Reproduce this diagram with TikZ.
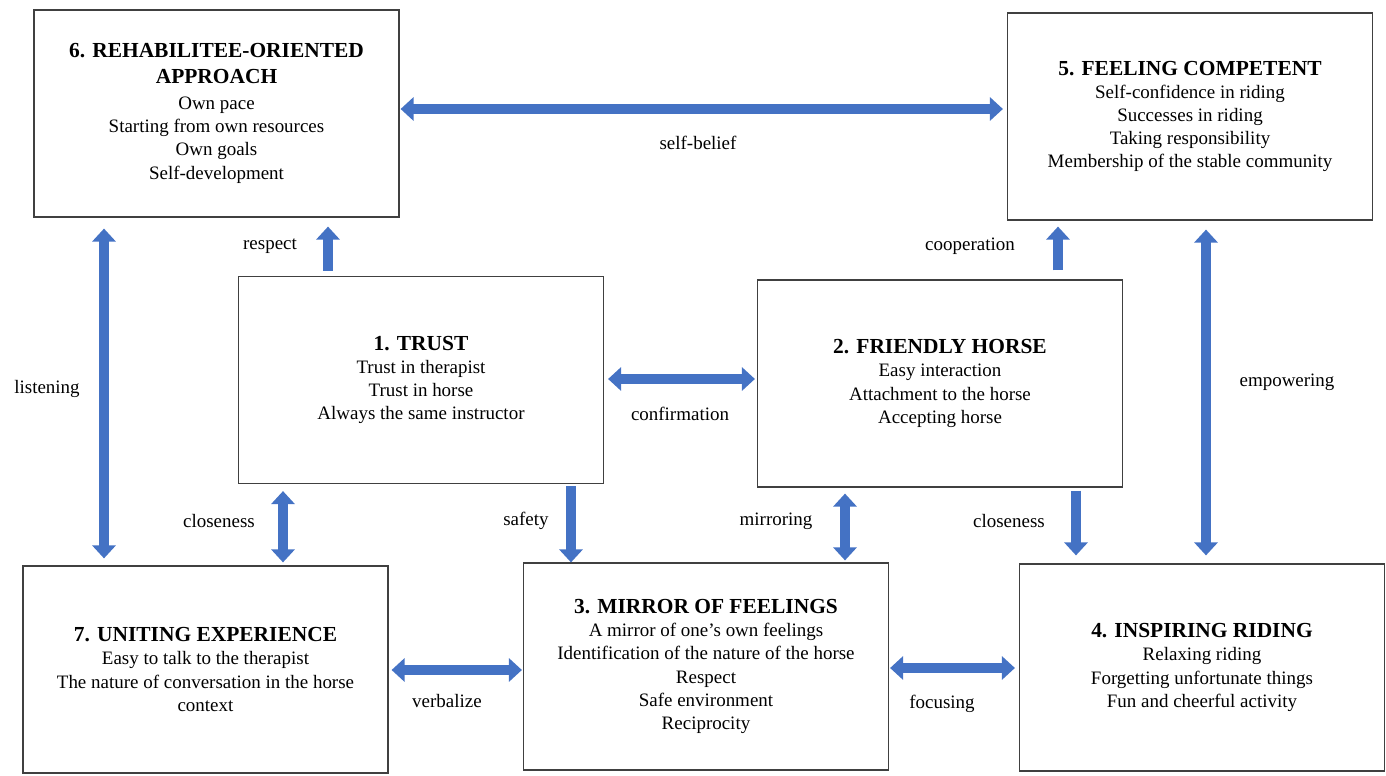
\documentclass[tikz,border=0pt]{standalone}
\usepackage{fontspec}
\setmainfont{Liberation Serif}
\usetikzlibrary{arrows.meta}
\definecolor{arrowblue}{RGB}{68,114,196}
\newcommand{\boxtitle}[1]{{\fontsize{12.2}{14.7}\selectfont\bfseries #1}}
\tikzset{
  theme/.style={draw=black!75, line width=0.7pt, minimum width=7.3cm, minimum height=4.14cm, align=center, inner sep=0pt},
  bigtip/.tip={Triangle[width=0.46cm,length=0.26cm]},
  onearrow/.style={draw=arrowblue, line width=0.2cm, -bigtip},
  twoarrow/.style={onearrow, bigtip-bigtip},
}

\begin{document}
\begin{tikzpicture}[x=0.02cm, y=-0.02cm, every node/.style={font=\fontsize{10.8}{13.2}\selectfont}]
\useasboundingbox (0,0) rectangle (1386,776);
% the seven themes
\node[theme] (rehab) at (216.5,113.5) {\boxtitle{6. REHABILITEE-ORIENTED}\\[1.5pt] \boxtitle{APPROACH}\\[1.5pt] Own pace\\ Starting from own resources\\ Own goals\\ Self-development};
\node[theme] (compet) at (1190,116.5) {\boxtitle{5. FEELING COMPETENT}\\ Self-confidence in riding\\ Successes in riding\\ Taking responsibility\\ Membership of the stable community};
\node[theme] (trust) at (421,380) {\boxtitle{1. TRUST}\\ Trust in therapist\\ Trust in horse\\ Always the same instructor};
\node[theme] (horse) at (940,383.5) {\boxtitle{2. FRIENDLY HORSE}\\ Easy interaction\\ Attachment to the horse\\ Accepting horse};
\node[theme] (uniting) at (205.5,669.5) {\boxtitle{7. UNITING EXPERIENCE}\\ Easy to talk to the therapist\\ The nature of conversation in the horse\\ context};
\node[theme] (mirror) at (706,666.5) {\boxtitle{3. MIRROR OF FEELINGS}\\ A mirror of one's own feelings\\ Identification of the nature of the horse\\ Respect\\ Safe environment\\ Reciprocity};
\node[theme] (riding) at (1202,667.5) {\boxtitle{4. INSPIRING RIDING}\\ Relaxing riding\\ Forgetting unfortunate things\\ Fun and cheerful activity};
% rows and columns of the arrows
\coordinate (selfy) at (0,109); \coordinate (confy) at (0,379);
\coordinate (verby) at (0,670); \coordinate (focy) at (0,668);
\coordinate (listx) at (104,0); \coordinate (respx) at (328,0);
\coordinate (closelx) at (283,0); \coordinate (safex) at (571,0);
\coordinate (mirrx) at (845,0); \coordinate (closerx) at (1076,0);
\coordinate (coopx) at (1058,0); \coordinate (empx) at (1206,0);
% arrows
\draw[twoarrow, shorten <=0.02cm, shorten >=0.08cm] (rehab.east |- selfy) -- (compet.west |- selfy);
\draw[onearrow, shorten <=0.1cm, shorten >=0.18cm] (trust.north -| respx) -- (rehab.south -| respx);
\draw[onearrow, shorten <=0.18cm, shorten >=0.12cm] (horse.north -| coopx) -- (compet.south -| coopx);
\draw[twoarrow, shorten <=0.22cm, shorten >=0.14cm] (rehab.south -| listx) -- (uniting.north -| listx);
\draw[twoarrow, shorten <=0.18cm, shorten >=0.16cm] (compet.south -| empx) -- (riding.north -| empx);
\draw[twoarrow, shorten <=0.08cm, shorten >=0.04cm] (trust.east |- confy) -- (horse.west |- confy);
\draw[twoarrow, shorten <=0.14cm, shorten >=0.06cm] (trust.south -| closelx) -- (uniting.north -| closelx);
\draw[onearrow, shorten <=0.04cm] (trust.south -| safex) -- (mirror.north -| safex);
\draw[twoarrow, shorten <=0.12cm, shorten >=0.04cm] (horse.south -| mirrx) -- (mirror.north -| mirrx);
\draw[onearrow, shorten <=0.06cm, shorten >=0.16cm] (horse.south -| closerx) -- (riding.north -| closerx);
\draw[twoarrow, shorten <=0.06cm, shorten >=0.02cm] (uniting.east |- verby) -- (mirror.west |- verby);
\draw[twoarrow, shorten <=0.02cm, shorten >=0.08cm] (mirror.east |- focy) -- (riding.west |- focy);
% labels
\foreach \nm/\txt/\x/\y in {lselfbelief/self-belief/698/143, lrespect/respect/270/246, lcoop/cooperation/970/246,
  llisten/listening/47/389, lempower/empowering/1287/382, lconfirm/confirmation/680/414,
  lclosel/closeness/219/521, lsafety/safety/526/521, lmirror/mirroring/776/521, lcloser/closeness/1009/521,
  lverbal/verbalize/447/701, lfocus/focusing/942/704}
  \node (\nm) at (\x,\y) {\txt};
\end{tikzpicture}
\end{document}
